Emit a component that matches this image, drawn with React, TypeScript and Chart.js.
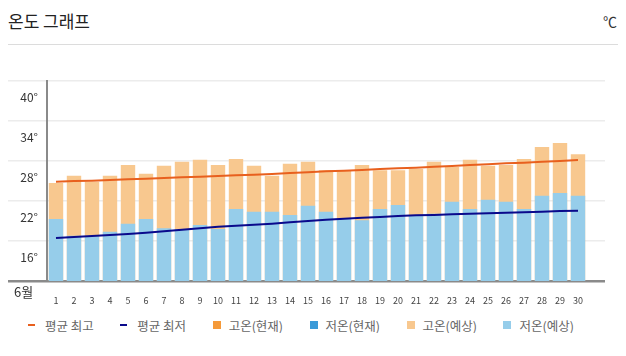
import React, { useEffect, useRef } from 'react';
import { Chart, registerables } from 'chart.js';

Chart.register(...registerables);

const days = ['1','2','3','4','5','6','7','8','9','10','11','12','13','14','15','16','17','18','19','20','21','22','23','24','25','26','27','28','29','30'];
const xLabels = [...days, ''];

const avgHigh = [24.9, 25.0, 25.05, 25.15, 25.25, 25.35, 25.45, 25.55, 25.65, 25.75, 25.85, 25.95, 26.05, 26.2, 26.3, 26.45, 26.55, 26.65, 26.8, 26.9, 27.0, 27.15, 27.25, 27.4, 27.5, 27.65, 27.75, 27.9, 28.0, 28.15];
const avgLow = [16.45, 16.6, 16.75, 16.9, 17.05, 17.25, 17.45, 17.7, 17.9, 18.15, 18.3, 18.45, 18.6, 18.8, 19.0, 19.2, 19.35, 19.5, 19.6, 19.75, 19.85, 19.9, 20.0, 20.1, 20.15, 20.25, 20.3, 20.4, 20.5, 20.55];

const highForecast = [24.7, 25.8, 24.9, 25.8, 27.4, 26.1, 27.3, 27.9, 28.2, 27.4, 28.3, 27.3, 25.8, 27.6, 27.9, 26.6, 26.6, 27.4, 26.6, 26.6, 26.8, 27.9, 27.1, 28.2, 27.3, 27.4, 28.3, 30.1, 30.7, 29.0];
const lowForecast = [19.3, 16.8, 16.7, 17.4, 18.6, 19.3, 17.9, 17.8, 18.4, 17.8, 20.8, 20.4, 20.4, 19.9, 21.3, 20.4, 19.3, 19.1, 20.8, 21.4, 19.9, 20.1, 21.9, 20.8, 22.2, 21.9, 20.8, 22.8, 23.2, 22.8];

const highCurrent: (number | null)[] = [];
const lowCurrent: (number | null)[] = [];

const yMin = 10;
const yMax = 40;
const yStep = 6;

const COLORS = {
  avgHigh: '#e8601e',
  avgLow: '#0a0a8c',
  highCur: '#f59a3a',
  lowCur: '#3a9ad8',
  highFc: '#f8c88f',
  lowFc: '#96cdea',
};

const legendItems = [
  { label: '평균 최고', color: COLORS.avgHigh, kind: 'line' },
  { label: '평균 최저', color: COLORS.avgLow, kind: 'line' },
  { label: '고온(현재)', color: COLORS.highCur, kind: 'box' },
  { label: '저온(현재)', color: COLORS.lowCur, kind: 'box' },
  { label: '고온(예상)', color: COLORS.highFc, kind: 'box' },
  { label: '저온(예상)', color: COLORS.lowFc, kind: 'box' },
];

const FONT = "'Noto Sans CJK KR', 'Noto Sans', sans-serif";

export default function App() {
  const ref = useRef<HTMLCanvasElement | null>(null);

  useEffect(() => {
    if (!ref.current) return;
    const chart = new Chart(ref.current, {
      type: 'bar',
      data: {
        labels: xLabels,
        datasets: [
          { type: 'line', label: '평균 최고', data: avgHigh, borderColor: COLORS.avgHigh, backgroundColor: COLORS.avgHigh, borderWidth: 2, pointRadius: 0, tension: 0, order: 0 },
          { type: 'line', label: '평균 최저', data: avgLow, borderColor: COLORS.avgLow, backgroundColor: COLORS.avgLow, borderWidth: 2, pointRadius: 0, tension: 0, order: 0 },
          { type: 'bar', label: '고온(현재)', data: highCurrent, backgroundColor: COLORS.highCur, order: 3 },
          { type: 'bar', label: '저온(현재)', data: lowCurrent, backgroundColor: COLORS.lowCur, order: 1 },
          { type: 'bar', label: '고온(예상)', data: highForecast, backgroundColor: COLORS.highFc, order: 4 },
          { type: 'bar', label: '저온(예상)', data: lowForecast, backgroundColor: COLORS.lowFc, order: 2 },
        ] as any,
      },
      options: {
        animation: false,
        responsive: true,
        maintainAspectRatio: false,
        layout: { padding: { left: 0, right: 13, top: 36, bottom: 0 } },
        datasets: {
          bar: { grouped: false, barPercentage: 0.8, categoryPercentage: 1 },
        } as any,
        plugins: {
          legend: { display: false },
          tooltip: { enabled: false },
        },
        scales: {
          x: {
            grid: { display: false },
            border: { display: false },
            ticks: {
              autoSkip: false,
              maxRotation: 0,
              padding: 6,
              color: '#444',
              font: { family: FONT, size: 9 },
            },
            afterFit: (s: any) => { s.height = 24; },
          },
          y: {
            min: yMin,
            max: yMax,
            ticks: {
              stepSize: yStep,
              padding: -30,
              labelOffset: 16,
              color: '#333',
              font: { family: FONT, size: 12 },
              callback: (v: any) => (Number(v) === yMin ? '' : `${v}°`),
            },
            grid: {
              drawTicks: true,
              tickLength: 39,
              color: (c: any) => (c.tick && c.tick.value === yMin ? '#8a8a8a' : '#ececec'),
              lineWidth: (c: any) => (c.tick && c.tick.value === yMin ? 2.5 : 1.5),
            },
            border: { display: true, color: '#8a8a8a', width: 2 },
            afterFit: (s: any) => { s.width = 39; },
          },
        },
      } as any,
    });
    return () => chart.destroy();
  }, []);

  return (
    <div style={{ fontFamily: FONT }}>
      <div style={{ margin: '-8px -8px 0', padding: '0 8px', height: 44, borderBottom: '1px solid #dcdcdc', position: 'relative' }}>
        <span style={{ position: 'absolute', left: 8, top: 11, fontSize: 17, lineHeight: '20px', color: '#222' }}>온도 그래프</span>
        <span style={{ position: 'absolute', left: 603, top: 11, fontSize: 14, lineHeight: '20px', color: '#333' }}>℃</span>
      </div>
      <div style={{ position: 'relative', width: 610, height: 260 }}>
        <canvas ref={ref} />
        <span style={{ position: 'absolute', left: 6, top: 239, fontSize: 13, lineHeight: '16px', color: '#333' }}>6월</span>
      </div>
      <div style={{ display: 'flex', alignItems: 'center', paddingLeft: 20, marginTop: 12, height: 16, fontSize: 12.5, color: '#666' }}>
        {legendItems.map((it) => (
          <div key={it.label} style={{ display: 'flex', alignItems: 'center', marginRight: 26.5 }}>
            {it.kind === 'line' ? (
              <span style={{ display: 'inline-block', width: 7, height: 2.5, background: it.color, marginRight: 10 }} />
            ) : (
              <span style={{ display: 'inline-block', width: 8, height: 8, background: it.color, marginRight: 8 }} />
            )}
            <span>{it.label}</span>
          </div>
        ))}
      </div>
    </div>
  );
}
